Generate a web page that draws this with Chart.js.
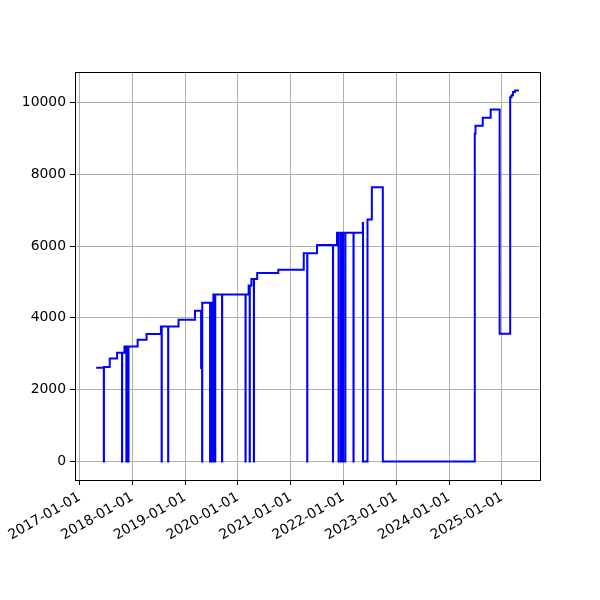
<!DOCTYPE html>
<html>
<head>
<meta charset="utf-8">
<script src="https://cdn.jsdelivr.net/npm/chart.js@4"></script>
<style>
  html, body { margin: 0; padding: 0; background: #fff; }
  #wrap { width: 600px; height: 600px; }
</style>
</head>
<body>
<div id="wrap"><canvas id="c" width="600" height="600"></canvas></div>
<script>
const dates = [
  "2017-04-26","2017-06-18","2017-06-19","2017-07-29","2017-09-18","2017-10-22","2017-10-23",
  "2017-11-08","2017-11-21","2017-11-22","2017-12-05","2017-12-06","2018-02-07","2018-04-10",
  "2018-07-18","2018-07-23","2018-07-24","2018-09-06","2018-09-07","2018-11-17","2019-03-11",
  "2019-04-22","2019-04-29","2019-04-30",
  "2019-06-23","2019-06-24","2019-06-27","2019-06-28","2019-07-01","2019-07-02","2019-07-05",
  "2019-07-06","2019-07-09","2019-07-10","2019-07-13","2019-07-16","2019-07-19","2019-07-20",
  "2019-07-23","2019-07-24","2019-07-28","2019-07-29",
  "2019-09-14","2019-09-15","2020-02-23","2020-02-24","2020-03-16","2020-03-23","2020-03-24",
  "2020-04-04","2020-04-21","2020-04-22","2020-05-14","2020-10-07","2021-04-01","2021-04-25",
  "2021-04-26","2021-07-02","2021-10-20","2021-10-21","2021-11-17","2021-11-28","2021-11-29",
  "2021-12-14","2021-12-15","2021-12-28","2021-12-29","2022-01-13","2022-01-14","2022-03-11",
  "2022-03-12","2022-05-15","2022-05-16","2022-06-16","2022-07-16","2022-09-30",
  "2024-06-27","2024-07-02","2024-08-21","2024-10-15","2024-12-16","2025-02-27","2025-03-08",
  "2025-03-18","2025-04-01","2025-04-28"
];
const values = [
  2610,0,2630,2870,3030,0,3030,
  3200,0,3200,0,3200,3390,3550,
  3760,0,3760,0,3760,3950,4200,
  2600,0,4420,
  0,4420,0,4420,0,4420,0,
  4420,0,4420,0,4650,0,4650,
  0,4650,0,4650,
  0,4650,0,4650,4900,0,4900,
  5080,0,5080,5250,5340,5800,0,
  5800,6030,0,6030,6370,0,6370,
  0,6370,0,6370,0,6370,0,
  6370,6640,0,6740,7640,0,
  9130,9350,9570,9800,3560,10140,10200,
  10290,10330,10330
];
const tickYears = [2017,2018,2019,2020,2021,2022,2023,2024,2025];
const yTicks = [0,2000,4000,6000,8000,10000];

function toMs(s){ const p = s.split('-').map(Number); return Date.UTC(p[0], p[1]-1, p[2]); }
const pts = dates.map((d,i)=>({x: toMs(d), y: values[i]}));
const xs = pts.map(p=>p.x), ys = values;
const xMin = Math.min(...xs), xMax = Math.max(...xs);
const yMin = Math.min(...ys), yMax = Math.max(...ys);
const xPad = (xMax-xMin)*0.05, yPad = (yMax-yMin)*0.05;

const frame = {
  id: 'frame',
  afterDatasetsDraw(chart){
    const {ctx, chartArea: a} = chart;
    ctx.save();
    ctx.strokeStyle = '#000';
    ctx.lineWidth = 1;
    ctx.strokeRect(Math.round(a.left)+0.5, Math.round(a.top)+0.5, Math.round(a.right-a.left), Math.round(a.bottom-a.top));
    ctx.restore();
  }
};

const font = {family: 'DejaVu Sans', size: 13.9};

new Chart(document.getElementById('c'), {
  type: 'line',
  data: { datasets: [{ data: pts, borderColor: '#0000ff', borderWidth: 2, pointRadius: 0, fill: false, stepped: true, tension: 0 }] },
  options: {
    responsive: false,
    animation: false,
    devicePixelRatio: 1,
    layout: { padding: { left: 0, right: 60, top: 72, bottom: 0 } },
    plugins: { legend: { display: false }, tooltip: { enabled: false } },
    scales: {
      x: {
        type: 'linear',
        min: xMin - xPad,
        max: xMax + xPad,
        afterBuildTicks(s){ s.ticks = tickYears.map(y=>({value: Date.UTC(y,0,1)})); },
        afterFit(s){ s.height = 120; },
        ticks: {
          color: '#000', font, padding: 4, minRotation: 30, maxRotation: 30, autoSkip: false,
          callback(v){ const d = new Date(v); return d.getUTCFullYear() + '-01-01'; }
        },
        grid: { color: '#b0b0b0', lineWidth: 1, tickColor: '#000', tickLength: 5 },
        border: { display: false }
      },
      y: {
        type: 'linear',
        min: yMin - yPad,
        max: yMax + yPad,
        afterBuildTicks(s){ s.ticks = yTicks.map(v=>({value: v})); },
        afterFit(s){ s.width = 75; },
        ticks: { color: '#000', font, padding: 4, callback(v){ return String(v); } },
        grid: { color: '#b0b0b0', lineWidth: 1, tickColor: '#000', tickLength: 5 },
        border: { display: false }
      }
    }
  },
  plugins: [frame]
});
</script>
</body>
</html>
